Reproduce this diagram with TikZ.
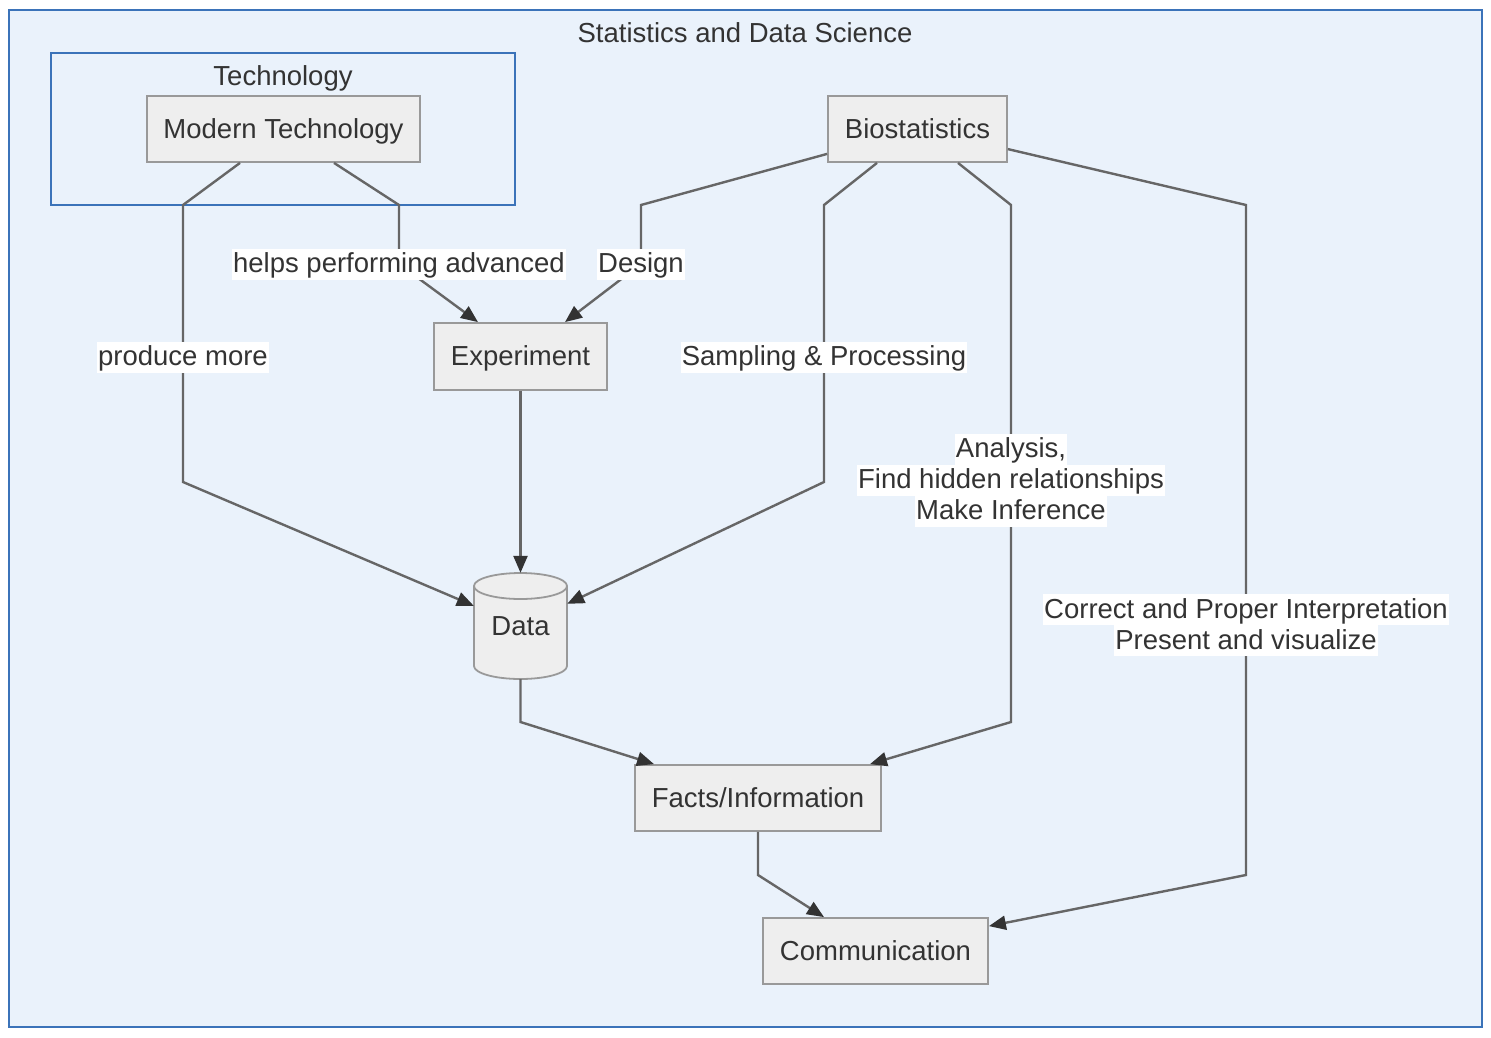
\documentclass[tikz,border=0pt]{standalone}
\usepackage{fontspec}
\setmainfont{Liberation Sans}
\usetikzlibrary{arrows.meta,calc}
\definecolor{bgc}{HTML}{EAF2FB}
\definecolor{clusterc}{HTML}{3B73B9}
\definecolor{nodefill}{HTML}{EEEEEE}
\definecolor{nodeline}{HTML}{999999}
\definecolor{txtc}{HTML}{333333}
\definecolor{edgec}{HTML}{666666}
\definecolor{arrowc}{HTML}{333333}
\setlength{\fboxsep}{0pt}
\newcommand\wl[1]{\colorbox{white}{\hspace{1pt}\rule[-7pt]{0pt}{31pt}#1\hspace{1pt}}}
\tikzset{
  boxnode/.style={draw=nodeline, fill=nodefill, line width=1.8pt, inner sep=0pt, text=txtc,
    text height=20pt, text depth=1.5pt,
    font=\fontsize{27.5}{31}\selectfont},
  edge/.style={draw=edgec, line width=2.4pt,
    -{Triangle[length=17pt,width=14pt,color=arrowc,fill=arrowc]}},
  lbl/.style={inner sep=0pt, text=txtc, align=center, font=\fontsize{27.5}{31}\selectfont},
  plaintxt/.style={inner sep=0pt, text=txtc, text height=20pt, text depth=1.5pt,
    font=\fontsize{27.5}{31}\selectfont}
}
\begin{document}
\begin{tikzpicture}[x=1pt,y=-1pt]
\useasboundingbox (0,0) rectangle (1491,1037);
% outer cluster
\draw[fill=bgc, draw=clusterc, line width=1.8pt] (9,10) rectangle (1482,1027);
\node[plaintxt] (title) at (745,33) {Statistics and Data Science};
% technology cluster
\draw[fill=bgc, draw=clusterc, line width=1.8pt] (51,53) rectangle (515,205);
\node[plaintxt] (techtitle) at (283,76) {Technology};
% nodes
\node[boxnode, minimum width=273pt, minimum height=66pt] (mt) at (283.5,129) {Modern Technology};
\node[boxnode, minimum width=179pt, minimum height=66pt] (bio) at (917.5,129) {Biostatistics};
\node[boxnode, minimum width=173pt, minimum height=67pt] (exp) at (520.5,356.5) {Experiment};
\node[boxnode, minimum width=246pt, minimum height=66pt] (facts) at (758,798) {Facts/Information};
\node[boxnode, minimum width=225pt, minimum height=66pt] (comm) at (875.5,951) {Communication};
% cylinder
\fill[nodefill] (474,586) rectangle (567,666);
\fill[nodefill] (520.5,666) ellipse [x radius=46.5, y radius=13];
\fill[nodefill] (520.5,586) ellipse [x radius=46.5, y radius=13];
\draw[nodeline, line width=1.8pt] (520.5,586) ellipse [x radius=46.5, y radius=13];
\draw[nodeline, line width=1.8pt] (474,586) -- (474,666) arc[start angle=180, end angle=0, x radius=46.5, y radius=13] -- (567,586);
\node[plaintxt, minimum width=93pt, minimum height=106pt] (data) at (520.5,626) {Data};
% edges
\draw[edge] ([xshift=-43.5pt]mt.south) -- (183,205) -- (183,482) -- ([yshift=-33pt]data.north west);
\draw[edge] ([xshift=50.5pt]mt.south) -- (399,205) -- (399,264) -- ([xshift=-42.5pt]exp.north);
\draw[edge] ([yshift=9pt]bio.south west) -- (641,205) -- (641,264) -- ([xshift=44.5pt]exp.north);
\draw[edge] ([xshift=-40.5pt]bio.south) -- (824,205) -- (824,482) -- ([yshift=-31pt]data.north east);
\draw[edge] ([xshift=40.5pt]bio.south) -- (1011,205) -- (1011,722) -- ([xshift=112pt]facts.north);
\draw[edge] ([yshift=-54pt]bio.north east) -- (1246,205) -- (1246,875) -- ([yshift=-9pt]comm.north east);
\draw[edge] (exp.south) -- (data.north);
\draw[edge] (data.south) -- (520.5,722) -- ([xshift=-104pt]facts.north);
\draw[edge] (facts.south) -- (758,875) -- ([xshift=-51.5pt]comm.north);
% edge labels
\node[lbl] (l1) at (183,357) {\wl{produce more}};
\node[lbl] (l2) at (399,264) {\wl{helps performing advanced}};
\node[lbl] (l3) at (641,264) {\wl{Design}};
\node[lbl] (l4) at (824,357) {\wl{Sampling \& Processing}};
\node[lbl] (l5) at (1011,480) {\wl{Analysis,}\\\wl{Find hidden relationships}\\\wl{Make Inference}};
\node[lbl] (l6) at (1246,625) {\wl{Correct and Proper Interpretation}\\\wl{Present and visualize}};
\end{tikzpicture}
\end{document}
